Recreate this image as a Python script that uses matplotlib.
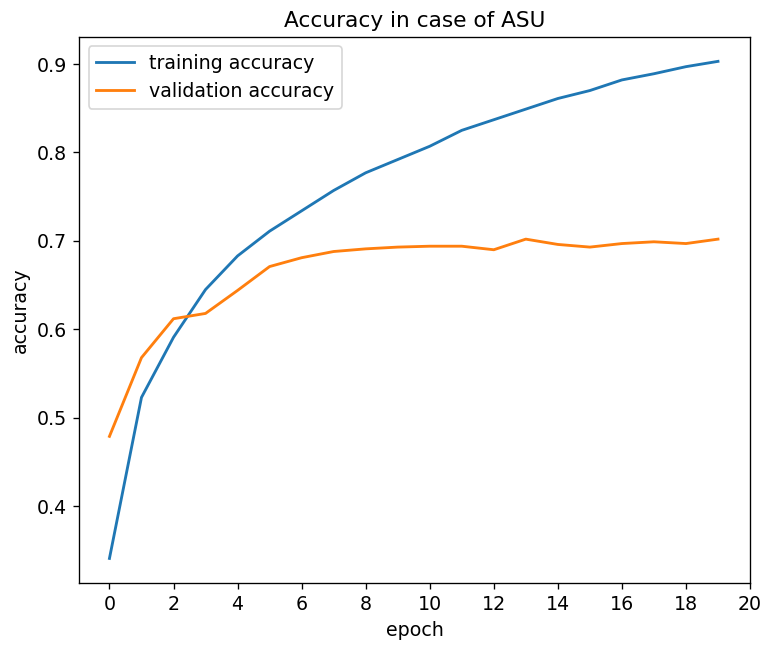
import numpy as np
import matplotlib
matplotlib.use('Agg')
import matplotlib.pyplot as plt

epochs = list(range(20))
train_acc = [0.341, 0.523, 0.591, 0.645, 0.683, 0.711, 0.734, 0.757, 0.777, 0.792,
             0.807, 0.825, 0.837, 0.849, 0.861, 0.870, 0.882, 0.889, 0.897, 0.903]
val_acc = [0.479, 0.568, 0.612, 0.618, 0.644, 0.671, 0.681, 0.688, 0.691, 0.693,
           0.694, 0.694, 0.690, 0.702, 0.696, 0.693, 0.697, 0.699, 0.697, 0.702]
x_ticks = list(range(0, 21, 2))

plt.rcParams['font.size'] = 11.4
plt.rcParams['lines.linewidth'] = 1.7

fig = plt.figure(figsize=(6.375, 5.375), dpi=120)
ax = fig.add_axes([0.1033, 0.0957, 0.8771, 0.8477])
ax.plot(epochs, train_acc, label='training accuracy')
ax.plot(epochs, val_acc, label='validation accuracy')
ax.set_xticks(x_ticks)
ax.set_title('Accuracy in case of ASU', fontsize=13)
ax.set_xlabel('epoch')
ax.set_ylabel('accuracy')
ax.legend(loc='upper left')

fig.savefig('out.png', dpi=120)
